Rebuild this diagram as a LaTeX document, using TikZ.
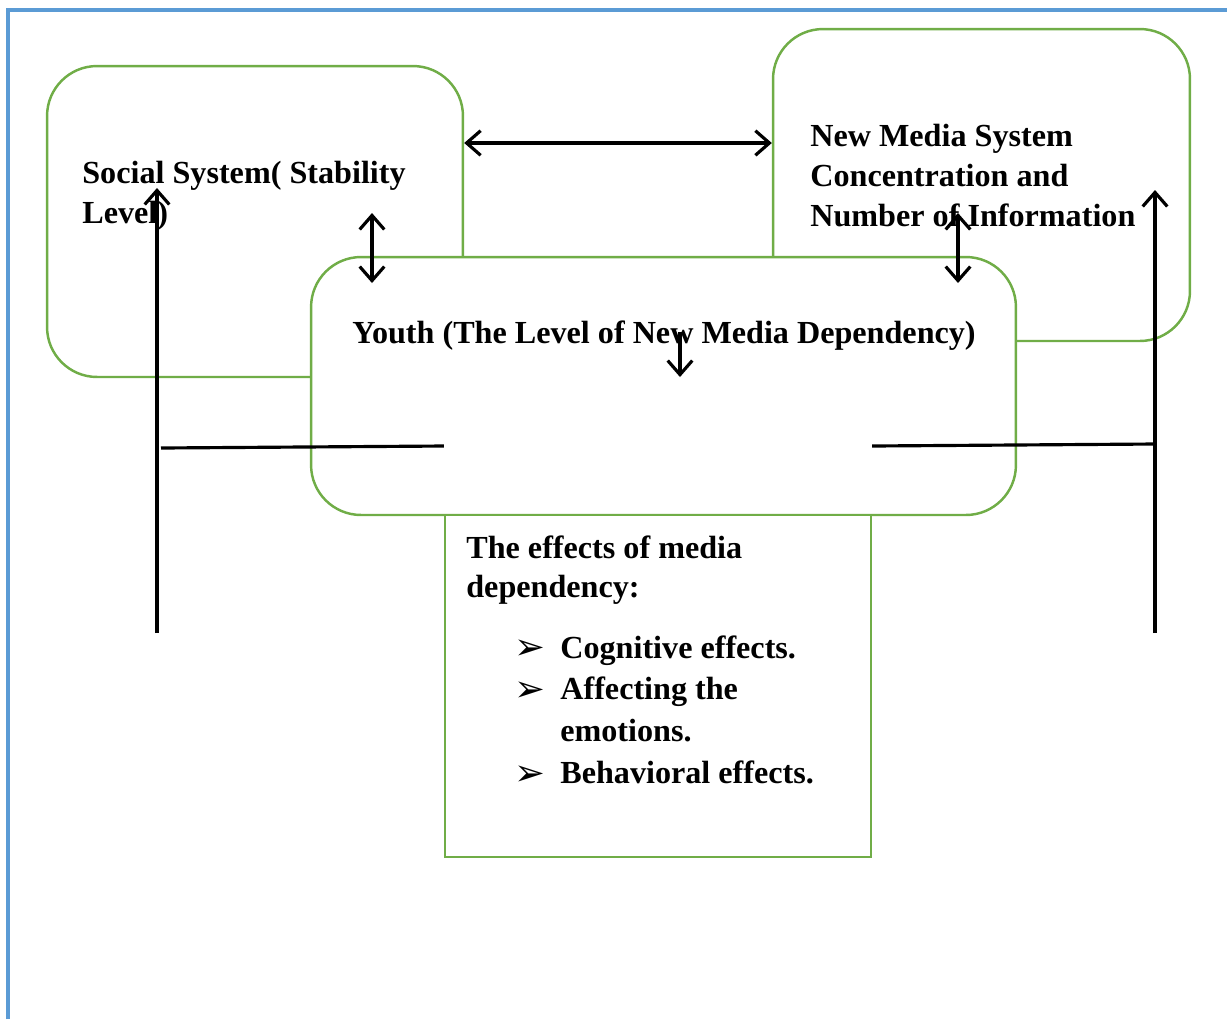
\documentclass[tikz,border=0pt]{standalone}
\usepackage{fontspec}
\setmainfont{Liberation Serif}
\newfontfamily\dingfont{DejaVu Sans}
\usetikzlibrary{positioning}
\usetikzlibrary{arrows.meta}

\definecolor{boxgreen}{HTML}{70AD47}
\definecolor{frameblue}{HTML}{5B9BD5}

\newcommand\pointer{\makebox[0.92cm][l]{\raisebox{-1pt}{\dingfont\fontsize{21}{21}\selectfont ➢}}}

\tikzset{
    sysbox/.style={draw=boxgreen, line width=1.4pt, rounded corners=1cm, fill=white, inner sep=0pt},
    effbox/.style={draw=boxgreen, line width=1.4pt, fill=white, inner sep=0pt},
    boxtext/.style={anchor=north west, inner sep=0pt, align=left, font=\fontsize{18.3}{22.7}\selectfont\bfseries},
    link/.style={line width=1.8pt},
    onearrow/.style={link, -{Straight Barb[length=8pt,width=14pt]}},
    twoarrow/.style={link, {Straight Barb[length=8pt,width=14pt]}-{Straight Barb[length=8pt,width=14pt]}}
}

\begin{document}
\begin{tikzpicture}[x=0.02cm, y=-0.02cm]
    \useasboundingbox (0,0) rectangle (1227,1019);

    % page frame
    \draw[frameblue, line width=1.8pt] (8,1019) -- (8,10) -- (1227,10);

    % Boxes
    \node[sysbox, minimum width=8.32cm, minimum height=6.22cm] (social) at (255,221.5) {};
    \node[sysbox, minimum width=8.34cm, minimum height=6.24cm] (media) at (981.5,185) {};
    \node[sysbox, minimum width=14.1cm, minimum height=5.16cm] (youth) at (663.5,386) {};
    \node[effbox, minimum width=8.52cm, minimum height=6.84cm] (effects) at (658,686) {};

    % Box texts
    \node[boxtext] (social text) at (82,161) {Social System( Stability\\Level)};
    \node[boxtext] (media text) at (810,124) {New Media System\\Concentration and\\Number of Information};
    \node[boxtext] (youth text) at (352,320) {Youth (The Level of New Media Dependency)};
    \node[boxtext] (effects text) at (466,535) {The effects of media\\dependency:};
    \node[boxtext, font=\fontsize{18.3}{23.8}\selectfont\bfseries] (effects list) at (514,635)
        {\pointer Cognitive effects.\\\pointer Affecting the\\\hspace*{0.92cm}emotions.\\\pointer Behavioral effects.};

    % branching coordinates
    \coordinate (sy1) at (372,213);
    \coordinate (sy2) at (372,283);
    \coordinate (my1) at (958,213);
    \coordinate (my2) at (958,283);
    \coordinate (yd1) at (680,332);
    \coordinate (yd2) at (680,377);
    \coordinate (lb) at (157,633);
    \coordinate (lt) at (157,188);
    \coordinate (lh) at (161,448);
    \coordinate (rb) at (1155,633);
    \coordinate (rt) at (1155,190);
    \coordinate (rh) at (1155,444);

    % Lines
    \draw[twoarrow] (social.east |- 0,143) -- (media.west |- 0,143);
    \draw[twoarrow] (sy1) -- (sy2);
    \draw[twoarrow] (my1) -- (my2);
    \draw[onearrow] (yd1) -- (yd2);
    \draw[onearrow] (lb) -- (lt);
    \draw[onearrow] (rb) -- (rt);
    \draw[link] (lh) -- (effects.west |- 0,446);
    \draw[link] (effects.east |- 0,446) -- (rh);
\end{tikzpicture}
\end{document}
